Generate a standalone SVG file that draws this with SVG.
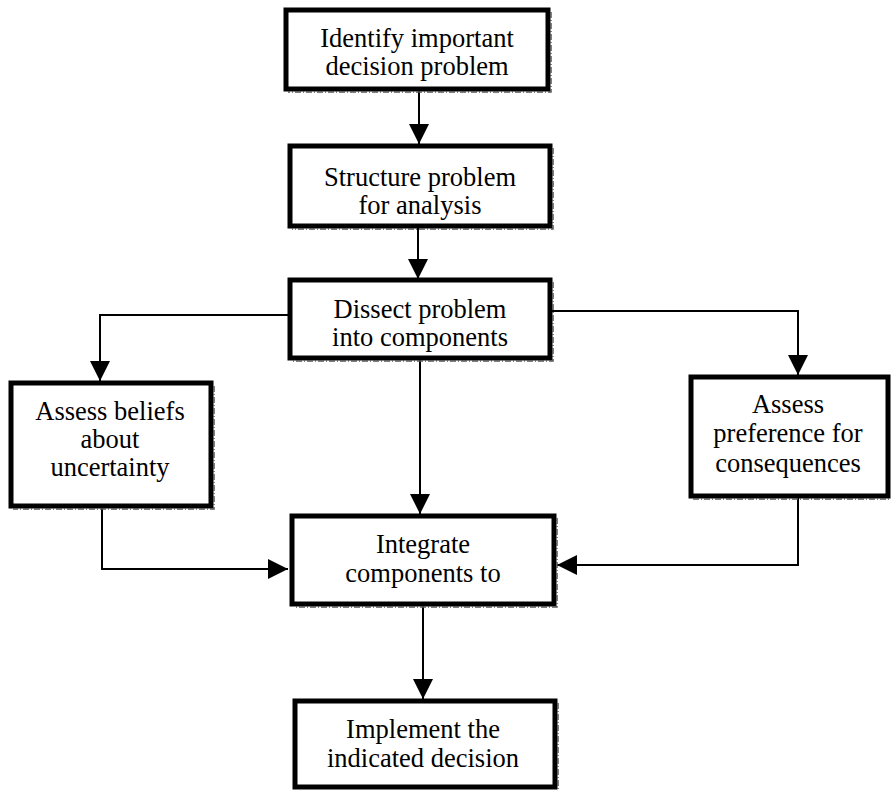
<svg xmlns="http://www.w3.org/2000/svg" width="891" height="791" viewBox="0 0 891 791">
<style>
.box{fill:#fff;stroke:#000;stroke-width:5}
.sh{fill:none;stroke:#555;stroke-width:1.5;stroke-dasharray:6 2 1 2}
.t{font-family:'Liberation Serif','DejaVu Serif','Times New Roman',Times,serif;font-size:26.5px;fill:#000;text-anchor:middle}
.c{fill:none;stroke:#000;stroke-width:2}
</style>
<defs>
<marker id="ah" markerUnits="userSpaceOnUse" markerWidth="22" markerHeight="22" viewBox="0 0 22 22" refX="20" refY="11" orient="auto">
<path d="M0,1 L20,11 L0,21 Z" fill="#000"/>
</marker>
</defs>
<rect width="891" height="791" fill="#fff"/>
<g id="connectors">
<path class="c" d="M419,90 V144" marker-end="url(#ah)"/>
<path class="c" d="M418,227 V279" marker-end="url(#ah)"/>
<path class="c" d="M289,315 H100 V381" marker-end="url(#ah)"/>
<path class="c" d="M551,311 H798 V375" marker-end="url(#ah)"/>
<path class="c" d="M420,359 V514" marker-end="url(#ah)"/>
<path class="c" d="M102,508 V569 H288" marker-end="url(#ah)"/>
<path class="c" d="M798,498 V565 H557" marker-end="url(#ah)"/>
<path class="c" d="M423,606 V699" marker-end="url(#ah)"/>
</g>
<g id="n1">
<rect class="box" x="286" y="10" width="262" height="79"/>
<path class="sh" d="M551,12 V92 H288"/>
<text class="t" x="417" y="47">Identify important</text>
<text class="t" x="417" y="75">decision problem</text>
</g>
<g id="n2">
<rect class="box" x="290" y="146" width="260" height="80"/>
<path class="sh" d="M553,148 V229 H292"/>
<text class="t" x="420" y="186">Structure problem</text>
<text class="t" x="420" y="214">for analysis</text>
</g>
<g id="n3">
<rect class="box" x="290" y="280" width="260" height="78"/>
<path class="sh" d="M553,282 V361 H292"/>
<text class="t" x="420" y="318">Dissect problem</text>
<text class="t" x="420" y="346">into components</text>
</g>
<g id="n4">
<rect class="box" x="11" y="383" width="200" height="123"/>
<path class="sh" d="M214,386 V509 H13"/>
<text class="t" x="110" y="420">Assess beliefs</text>
<text class="t" x="110" y="448">about</text>
<text class="t" x="110" y="476">uncertainty</text>
</g>
<g id="n5">
<rect class="box" x="292" y="516" width="262" height="88"/>
<path class="sh" d="M557,518 V607 H294"/>
<text class="t" x="423" y="553">Integrate</text>
<text class="t" x="423" y="582">components to</text>
</g>
<g id="n6">
<rect class="box" x="295" y="701" width="260" height="86"/>
<path class="sh" d="M558,703 V790"/>
<text class="t" x="423" y="738">Implement the</text>
<text class="t" x="423" y="767">indicated decision</text>
</g>
<g id="n7">
<rect class="box" x="691" y="377" width="197" height="119"/>
<path class="sh" d="M693,499 H890"/>
<text class="t" x="788" y="413">Assess</text>
<text class="t" x="788" y="442">preference for</text>
<text class="t" x="788" y="472">consequences</text>
</g>
</svg>
